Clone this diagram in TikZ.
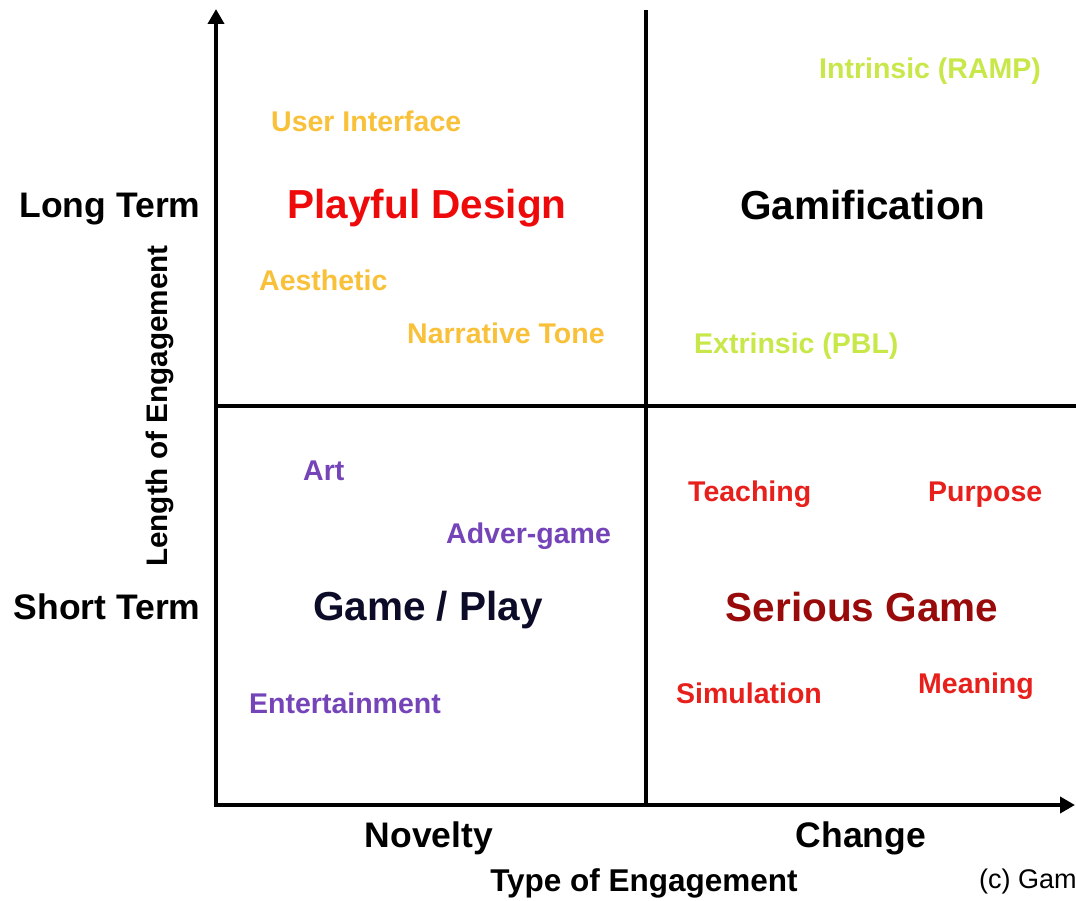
\documentclass[tikz,border=0pt]{standalone}
\usepackage{fontspec}
\setmainfont{Liberation Sans}
\usetikzlibrary{arrows.meta}
\definecolor{uiorange}{HTML}{F9C13A}
\definecolor{limegreen}{HTML}{C8E84A}
\definecolor{violet}{HTML}{7444B8}
\definecolor{brightred}{HTML}{E8201C}
\definecolor{playred}{HTML}{EE0A0A}
\definecolor{darkred}{HTML}{990A0A}
\definecolor{navyblack}{HTML}{0C0C28}
\tikzset{
  axis/.style={line width=3.8pt, -{Triangle[length=15pt,width=16pt]}},
  divider/.style={line width=3.8pt},
  quad/.style={font=\bfseries\fontsize{40.5}{46}\selectfont, inner sep=0pt},
  item/.style={font=\bfseries\fontsize{28.5}{32}\selectfont, inner sep=0pt, anchor=west},
  axislabel/.style={font=\bfseries\fontsize{35.5}{40}\selectfont, inner sep=0pt},
  axistitle/.style={font=\bfseries\fontsize{31.5}{36}\selectfont, inner sep=0pt},
  vaxistitle/.style={font=\bfseries\fontsize{29.7}{34}\selectfont, inner sep=0pt, rotate=90}
}
\begin{document}
\begin{tikzpicture}[x=1pt,y=-1pt]
\useasboundingbox (0,0) rectangle (1076,901);
\fill[white] (0,0) rectangle (1076,901);

% axes and quadrant dividers
\coordinate (origin) at (216,805);
\coordinate (ytop) at (216,9);
\coordinate (xend) at (1075,805);
\coordinate (vtop) at (646,10);
\coordinate (vbot) at (646,805);
\coordinate (hleft) at (216,406);
\coordinate (hright) at (1076,406);
\draw[divider] (vtop) -- (vbot);
\draw[divider] (hleft) -- (hright);
\draw[axis] ([xshift=-1.9pt]origin) -- (xend);
\draw[axis] ([yshift=1.9pt]origin) -- (ytop);

% quadrant titles
\node[quad, text=playred] (playful) at (427,208) {Playful Design};
\node[quad, text=black] (gamif) at (863,205) {Gamification};
\node[quad, text=navyblack] (gameplay) at (428,610) {Game / Play};
\node[quad, text=darkred] (serious) at (862,607) {Serious Game};

% top-left items
\node[item, text=uiorange] (ui) at (271,121) {User Interface};
\node[item, text=uiorange] (aest) at (259,280) {Aesthetic};
\node[item, text=uiorange] (narr) at (407,333) {Narrative Tone};

% top-right items
\node[item, text=limegreen] (intr) at (819,71) {Intrinsic (RAMP)};
\node[item, text=limegreen] (extr) at (694,346) {Extrinsic (PBL)};

% bottom-left items
\node[item, text=violet] (art) at (303,471) {Art};
\node[item, text=violet] (adver) at (446,536) {Adver-game};
\node[item, text=violet] (ent) at (249,703) {Entertainment};

% bottom-right items
\node[item, text=brightred] (teach) at (688,494) {Teaching};
\node[item, text=brightred] (purp) at (928,495) {Purpose};
\node[item, text=brightred] (sim) at (676,693) {Simulation};
\node[item, text=brightred] (mean) at (918,686) {Meaning};

% axis labels
\node[axislabel] (longterm) at (110,209) {Long Term};
\node[axislabel] (shortterm) at (107,607) {Short Term};
\node[axislabel] (novelty) at (429,838) {Novelty};
\node[axislabel] (change) at (861,838) {Change};
\node[axistitle] (typeeng) at (644,883) {Type of Engagement};
\node[vaxistitle] (lengtheng) at (160,406) {Length of Engagement};

% credit line, running off the right edge
\begin{scope}
\clip (0,0) rectangle (1076,901);
\node[font=\fontsize{27}{32}\selectfont, inner sep=0pt, anchor=west] (credit) at (979,882) {(c) Gam};
\end{scope}
\end{tikzpicture}
\end{document}
